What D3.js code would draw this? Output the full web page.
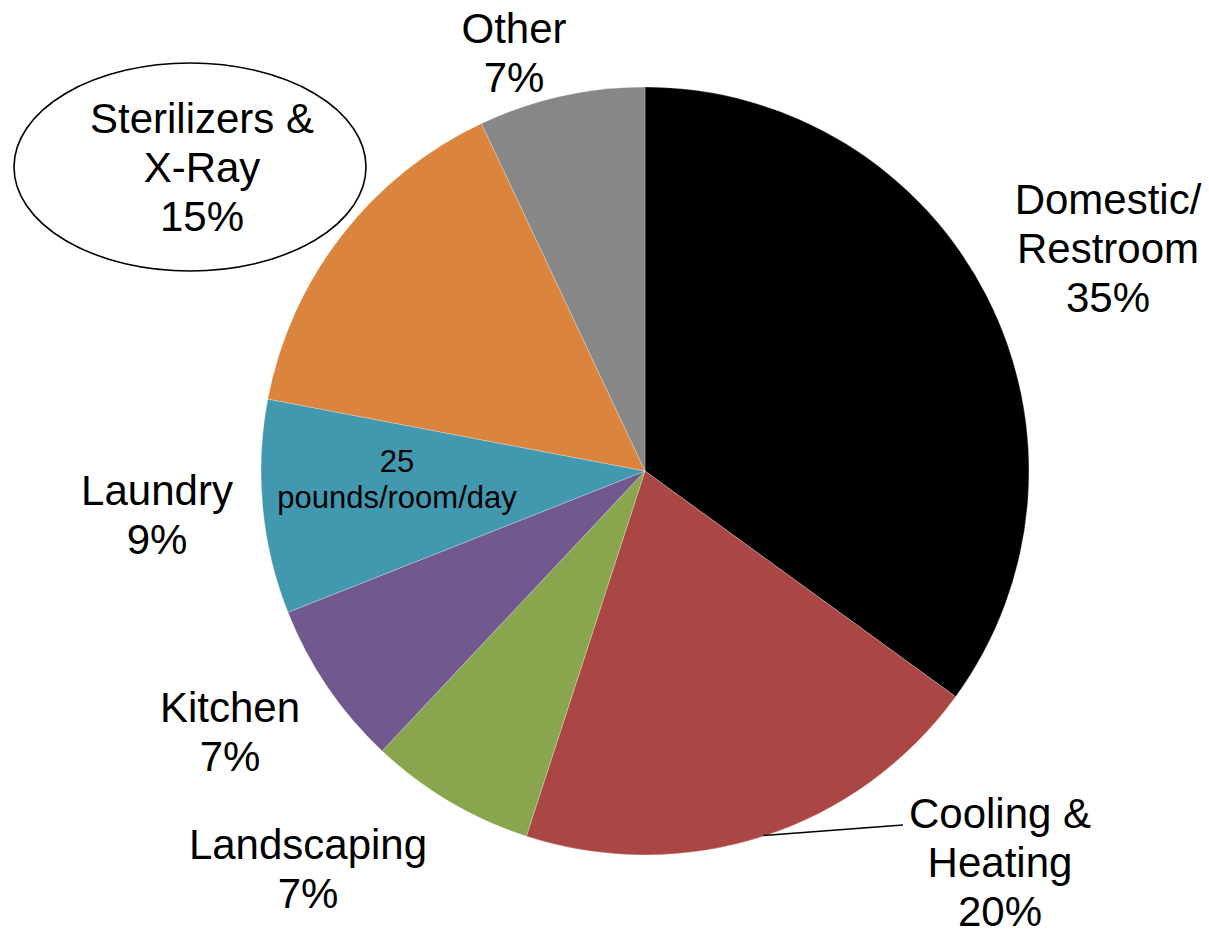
<!DOCTYPE html>
<html>
<head>
<meta charset="utf-8">
<script src="https://cdn.jsdelivr.net/npm/d3@7"></script>
<style>
  html, body { margin: 0; padding: 0; background: #fff; }
  svg { display: block; }
  text { font-family: "Liberation Sans", Arial, sans-serif; fill: #000; }
</style>
</head>
<body>
<svg id="chart" width="1209" height="930"></svg>
<script>
// Water use by end use, share of total (%)
const categories = ["Domestic/Restroom", "Cooling & Heating", "Landscaping", "Kitchen", "Laundry", "Sterilizers & X-Ray", "Other"];
const labelLines = [["Domestic/", "Restroom"], ["Cooling &", "Heating"], ["Landscaping"], ["Kitchen"], ["Laundry"], ["Sterilizers &", "X-Ray"], ["Other"]];
const values = [35, 20, 7, 7, 9, 15, 7];
const colors = ["#000000", "#AA4643", "#89A54E", "#71588F", "#4198AF", "#DB843D", "#878787"];
const laundryNote = ["25", "pounds/room/day"];

// Label anchors: centre x and baseline of the first line
const labelPos = [
  { x: 1108, y: 214 },
  { x: 1000, y: 828 },
  { x: 308, y: 859 },
  { x: 230, y: 722 },
  { x: 157, y: 505 },
  { x: 202, y: 133 },
  { x: 514, y: 43 }
];
const lineGap = 49;

const svg = d3.select("#chart");
const cx = 645, cy = 471, r = 384;

const pie = d3.pie().sort(null).value(d => d.value);
const arcs = pie(categories.map((c, i) => ({ name: c, value: values[i], color: colors[i], i })));
const arc = d3.arc().innerRadius(0).outerRadius(r);

const g = svg.append("g").attr("transform", `translate(${cx},${cy})`);
g.selectAll("path")
  .data(arcs)
  .join("path")
  .attr("d", arc)
  .attr("fill", d => d.data.color)
  .attr("stroke", "#ffffff")
  .attr("stroke-width", 0.5)
  .attr("stroke-opacity", 0.5);

// Ellipse highlighting the sterilizer share
svg.append("ellipse")
  .attr("cx", 190).attr("cy", 167)
  .attr("rx", 176).attr("ry", 104)
  .attr("fill", "#fff")
  .attr("stroke", "#000")
  .attr("stroke-width", 1.6);

// Leader line for Cooling & Heating
const coolArc = arcs[1];
const leadAngle = coolArc.startAngle + (coolArc.endAngle - coolArc.startAngle) * 0.5;
const lx = cx + r * Math.sin(leadAngle) * 0.998, ly = cy - r * Math.cos(leadAngle) * 0.998;
svg.append("path")
  .attr("d", `M${lx},${ly} L903,825`)
  .attr("fill", "none")
  .attr("stroke", "#000")
  .attr("stroke-width", 1.6);

// Category labels with percentages
arcs.forEach((a, i) => {
  const lines = labelLines[i].concat([values[i] + "%"]);
  const t = svg.append("text")
    .attr("text-anchor", "middle")
    .attr("font-size", 42);
  lines.forEach((ln, k) => {
    t.append("tspan")
      .attr("x", labelPos[i].x)
      .attr("y", labelPos[i].y + k * lineGap)
      .text(ln);
  });
});

// Note inside the laundry slice
const note = svg.append("text")
  .attr("text-anchor", "middle")
  .attr("font-size", 31);
laundryNote.forEach((ln, k) => {
  note.append("tspan").attr("x", 397).attr("y", 472 + k * 36).text(ln);
});
</script>
</body>
</html>
